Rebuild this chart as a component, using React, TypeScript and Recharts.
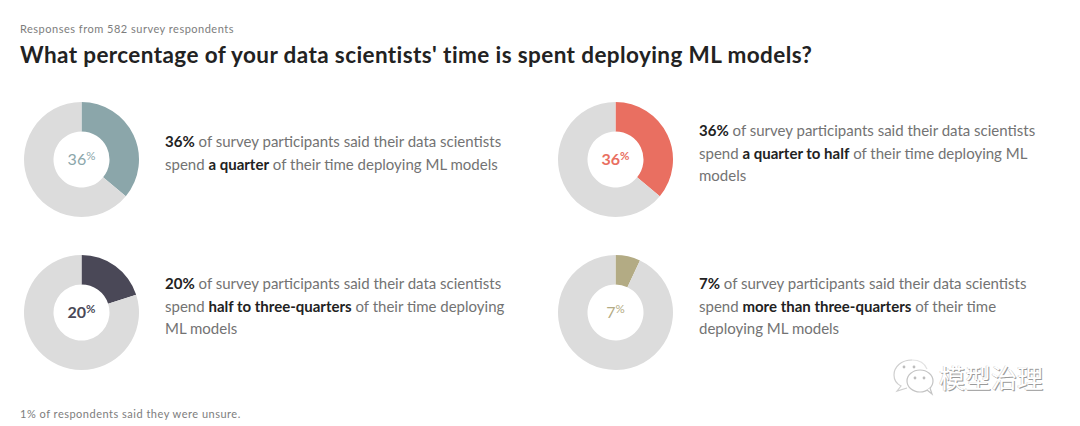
import React from "react";
import { PieChart, Pie, Cell } from "recharts";

const FONT = "Lato, 'Noto Sans', sans-serif";
const REST_COLOR = "#dcdcdc";

const percents = [36, 36, 20, 7];
const remainders = [64, 64, 80, 93];
const colors = ["#8ba6aa", "#e96f61", "#4a4857", "#b3ab84"];
const labelWeights = [400, 700, 700, 400];
const chartLefts = [16, 550, 16, 550];
const chartTops = [94, 94, 247, 247];
const blurbLefts = [165, 699, 165, 699];
const blurbTops = [130, 119, 272, 272];

// each line is a list of [text, isBold] runs
const blurbs: [string, boolean][][][] = [
  [
    [["36%", true], [" of survey participants said their data scientists", false]],
    [["spend ", false], ["a quarter", true], [" of their time deploying ML models", false]],
  ],
  [
    [["36%", true], [" of survey participants said their data scientists", false]],
    [["spend ", false], ["a quarter to half", true], [" of their time deploying ML", false]],
    [["models", false]],
  ],
  [
    [["20%", true], [" of survey participants said their data scientists", false]],
    [["spend ", false], ["half to three-quarters", true], [" of their time deploying", false]],
    [["ML models", false]],
  ],
  [
    [["7%", true], [" of survey participants said their data scientists", false]],
    [["spend ", false], ["more than three-quarters", true], [" of their time", false]],
    [["deploying ML models", false]],
  ],
];

function Donut({ index }: { index: number }) {
  const data = [
    { name: "share", value: percents[index] },
    { name: "rest", value: remainders[index] },
  ];
  return (
    <div style={{ position: "absolute", left: chartLefts[index], top: chartTops[index] }}>
      <PieChart width={131} height={131} margin={{ top: 0, right: 0, bottom: 0, left: 0 }}>
        <Pie
          data={data}
          dataKey="value"
          cx="50%"
          cy="50%"
          innerRadius={28}
          outerRadius={57.5}
          startAngle={90}
          endAngle={-270}
          stroke="none"
          isAnimationActive={false}
        >
          <Cell fill={colors[index]} />
          <Cell fill={REST_COLOR} />
        </Pie>
        <text
          x={65.5}
          y={71}
          textAnchor="middle"
          fill={colors[index]}
          fontFamily={FONT}
          fontSize={16}
          fontWeight={labelWeights[index]}
        >
          <tspan>{percents[index]}</tspan>
          <tspan fontSize={11.5} dy={-5}>%</tspan>
        </text>
      </PieChart>
    </div>
  );
}

function Blurb({ index }: { index: number }) {
  return (
    <div
      style={{
        position: "absolute",
        left: blurbLefts[index],
        top: blurbTops[index],
        fontFamily: FONT,
        fontSize: 15,
        lineHeight: "22.5px",
        color: "#737373",
        whiteSpace: "nowrap",
      }}
    >
      {blurbs[index].map((line, i) => (
        <div key={i}>
          {line.map(([text, bold], j) => (
            <span
              key={j}
              style={bold ? { fontWeight: 700, color: "#222222" } : undefined}
            >
              {text}
            </span>
          ))}
        </div>
      ))}
    </div>
  );
}

function Watermark() {
  return (
    <div style={{ position: "absolute", left: 892, top: 358 }}>
      <svg width={50} height={40} style={{ position: "absolute", left: 0, top: 0 }}>
        <path
          d="M20 2 C9 2 2 9 2 17 C2 22 5 26 9 28 L5 33 L15 30"
          fill="none"
          stroke="#cfcfcf"
          strokeWidth={1.2}
        />
        <path
          d="M20 2 C28 2 33 6 35 11"
          fill="none"
          stroke="#e2e2e2"
          strokeWidth={1.2}
        />
        <ellipse cx={28} cy={23} rx={13} ry={11} fill="#ffffff" stroke="#c4c4c4" strokeWidth={1.2} />
        <path d="M35 32 L40 36 L38 30" fill="#ffffff" stroke="#c4c4c4" strokeWidth={1.2} />
        <circle cx={12} cy={9} r={1.4} fill="#bdbdbd" />
        <circle cx={22} cy={9} r={1.4} fill="#bdbdbd" />
        <circle cx={23} cy={20} r={1.4} fill="#bdbdbd" />
        <circle cx={32} cy={20} r={1.4} fill="#bdbdbd" />
      </svg>
      <div
        style={{
          position: "absolute",
          left: 47,
          top: 2,
          fontFamily: "'Noto Sans CJK SC', sans-serif",
          fontSize: 26,
          lineHeight: "34px",
          color: "#ffffff",
          whiteSpace: "nowrap",
          textShadow: "1px 1px 0 #9a9a9a, -0.5px -0.5px 0 #c8c8c8",
        }}
      >
        模型治理
      </div>
    </div>
  );
}

export default function App() {
  return (
    <div
      style={{
        position: "absolute",
        left: 0,
        top: 0,
        width: 1080,
        height: 426,
        background: "#ffffff",
        overflow: "hidden",
        fontFamily: FONT,
      }}
    >
      <div style={{ position: "absolute", left: 20, top: 22, fontSize: 11, lineHeight: "14px", color: "#7d7d7d", letterSpacing: 0.5 }}>
        Responses from 582 survey respondents
      </div>
      <div style={{ position: "absolute", left: 20, top: 41, fontSize: 22.5, lineHeight: "28px", fontWeight: 700, color: "#222222", whiteSpace: "nowrap", letterSpacing: 0.4 }}>
        What percentage of your data scientists' time is spent deploying ML models?
      </div>
      {percents.map((_, i) => (
        <React.Fragment key={i}>
          <Donut index={i} />
          <Blurb index={i} />
        </React.Fragment>
      ))}
      <div style={{ position: "absolute", left: 20, top: 407, fontSize: 11, lineHeight: "14px", color: "#7d7d7d", letterSpacing: 0.5 }}>
        1% of respondents said they were unsure.
      </div>
      <Watermark />
    </div>
  );
}
